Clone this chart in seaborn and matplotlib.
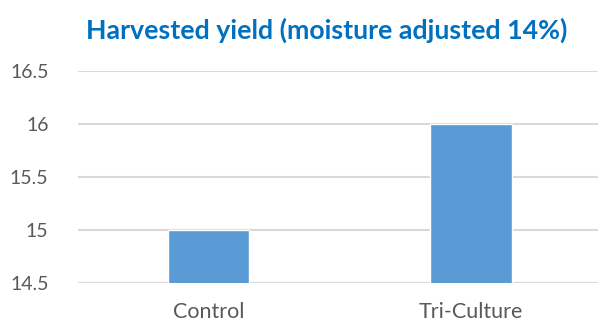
import matplotlib
matplotlib.use("Agg")
import matplotlib.pyplot as plt
import seaborn as sns
import pandas as pd

categories = ["Control", "Tri-Culture"]
yield_values = [15.0, 16.0]
y_ticks = [14.5, 15, 15.5, 16, 16.5]
y_tick_labels = ["14.5", "15", "15.5", "16", "16.5"]

sns.set_theme(style="white")
plt.rcParams["font.family"] = ["Lato", "DejaVu Sans"]

df = pd.DataFrame({"group": categories, "yield": yield_values})

fig = plt.figure(figsize=(5.98, 3.22), dpi=100)
ax = fig.add_axes([0.130, 0.121, 0.870, 0.658])

sns.barplot(data=df, x="group", y="yield", color="#5B9BD5", saturation=1,
            width=0.31, ax=ax, zorder=3)

ax.set_ylim(14.5, 16.5)
ax.set_xlim(-0.5, 1.485)
ax.set_yticks(y_ticks)
ax.set_yticklabels(y_tick_labels)
ax.grid(axis="y", color="#D9D9D9", linewidth=1.5, zorder=0)
ax.set_axisbelow(True)
for s in ax.spines.values():
    s.set_visible(False)
ax.set_xlabel("")
ax.set_ylabel("")
ax.tick_params(axis="both", length=0, labelcolor="#595959")
ax.tick_params(axis="y", pad=21, labelsize=14)
ax.tick_params(axis="x", pad=14, labelsize=15.5)
for lab in ax.get_yticklabels():
    lab.set_horizontalalignment("right")

fig.text(0.546, 0.905, "Harvested yield (moisture adjusted 14%)",
         ha="center", va="center", fontsize=19.3, fontweight="bold", color="#0070C0")

fig.savefig("out.png", dpi=100)
